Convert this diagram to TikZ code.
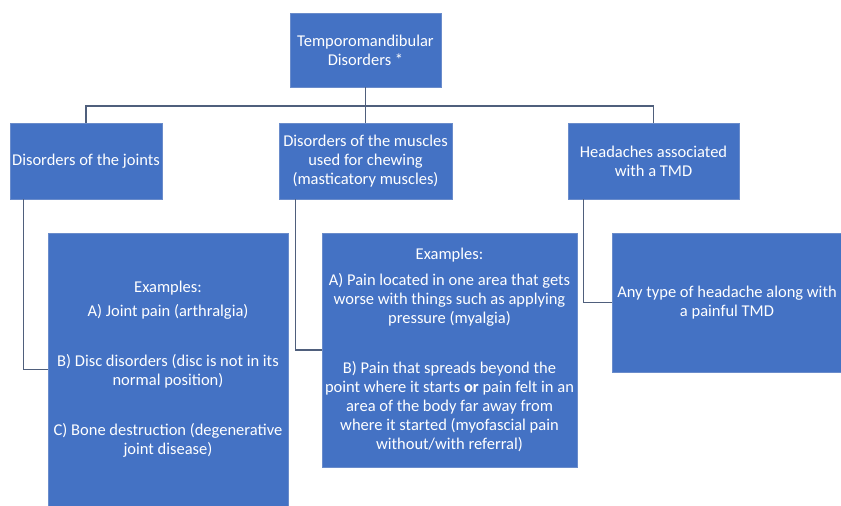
\documentclass[tikz,border=0pt]{standalone}
\usepackage{fontspec}
\setmainfont{Carlito}
\definecolor{tmdblue}{HTML}{4472C4}
\definecolor{tmdedge}{HTML}{6A8CCB}
\definecolor{tmdline}{HTML}{4F5F7C}
\tikzset{
  tbox/.style={fill=tmdblue, draw=tmdedge, line width=0.8pt, text=white, align=center, inner sep=0pt,
    font=\fontsize{16.5}{19}\selectfont},
  conn/.style={draw=tmdline, line width=1.4pt}
}
\begin{document}
\begin{tikzpicture}[x=1pt,y=-1pt]
\useasboundingbox (0,0) rectangle (841,506);
\node[tbox, minimum width=151pt, minimum height=74pt] (top) at (365.5,50) {Temporomandibular\\Disorders *};
\node[tbox, minimum width=152pt, minimum height=76pt] (joints) at (86,161) {Disorders of the joints};
\node[tbox, minimum width=173pt, minimum height=76pt] (muscles) at (365.5,161) {Disorders of the muscles\\used for chewing\\(masticatory muscles)};
\node[tbox, minimum width=171pt, minimum height=76pt] (head) at (653.5,161) {Headaches associated\\with a TMD};
\node[tbox, minimum width=240pt, minimum height=273pt] (ex1) at (168,369.5) {Examples:\\[5pt]A) Joint pain (arthralgia)\\[31pt]B) Disc disorders (disc is not in its\\normal position)\\[31pt]C) Bone destruction (degenerative\\joint disease)};
\node[tbox, minimum width=255pt, minimum height=234pt] (ex2) at (449.5,350) {Examples:\\[7pt]A) Pain located in one area that gets\\worse with things such as applying\\pressure (myalgia)\\[31pt]B) Pain that spreads beyond the\\point where it starts \textbf{or} pain felt in an\\area of the body far away from\\where it started (myofascial pain\\without/with referral)};
\node[tbox, minimum width=230pt, minimum height=139pt] (ex3) at (727,302.5) {Any type of headache along with\\a painful TMD};
\coordinate (bus) at (365.5,106);
\draw[conn] (top.south) -- (muscles.north);
\draw[conn] (joints.north) |- (bus) -| (head.north);
\draw[conn] ([xshift=14pt]joints.south west) |- (ex1.west);
\draw[conn] ([xshift=17pt]muscles.south west) |- (ex2.west);
\draw[conn] ([xshift=16pt]head.south west) |- (ex3.west);
\end{tikzpicture}
\end{document}
